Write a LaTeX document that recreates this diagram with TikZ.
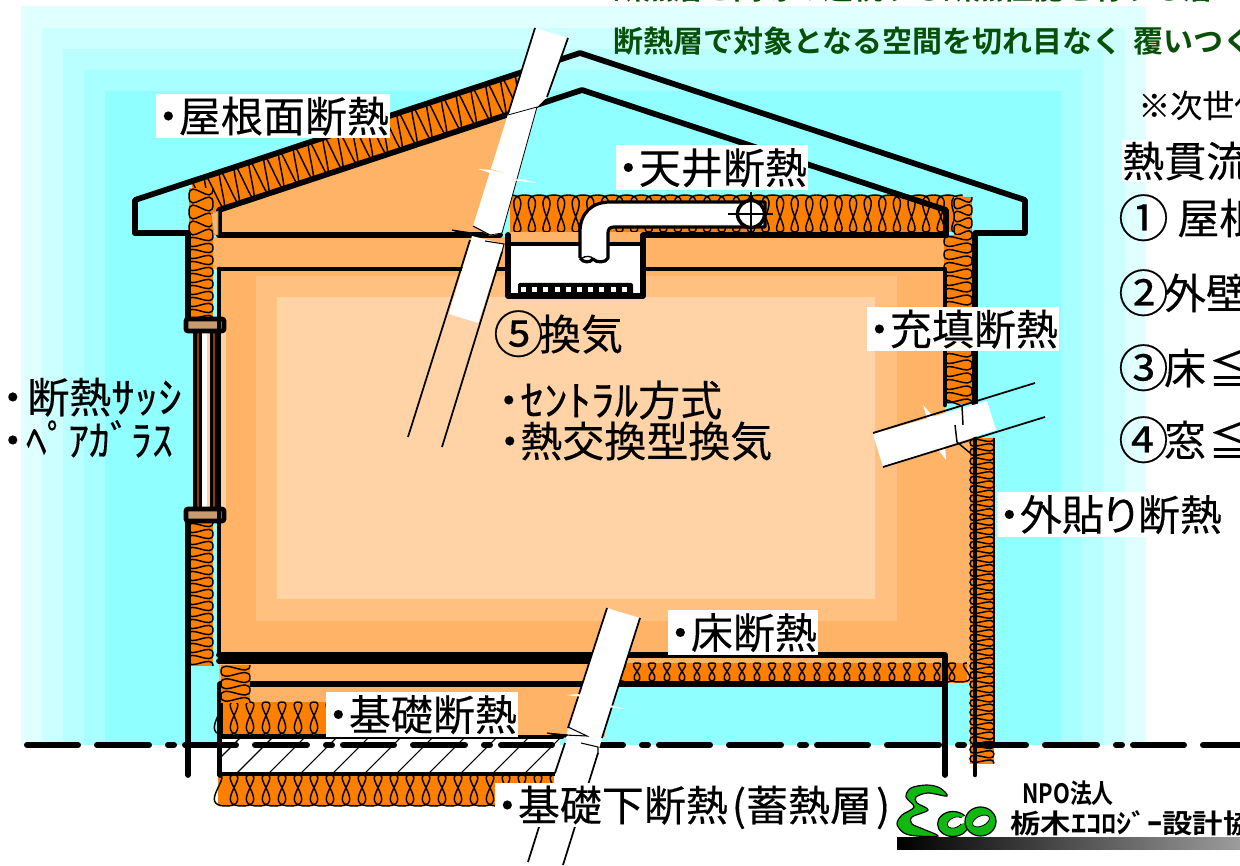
\documentclass[tikz,border=0pt]{standalone}
\usepackage{fontspec}
\usepackage{graphicx}
\newfontfamily\jp{Noto Sans CJK JP}[FakeBold=0.25]
\newfontfamily\jpb{Noto Sans CJK JP Bold}
\newcommand{\hd}{\makebox[.5em]{・}}
\newcommand{\hw}[1]{\scalebox{1.12}[1]{#1}}
\newcommand{\cd}[1]{\raisebox{-2.2pt}{\fontsize{37.8}{37.8}\selectfont #1}\kern-3.5pt}
\definecolor{insul}{HTML}{FF8000}
\definecolor{roomA}{HTML}{FFB366}
\definecolor{roomB}{HTML}{FFC080}
\definecolor{roomC}{HTML}{FFD3A6}
\definecolor{greentxt}{HTML}{085008}
\definecolor{ecogreen}{HTML}{10B810}
\tikzset{
  heavy/.style={line width=4.3pt,line cap=round,line join=round},
  mid/.style={line width=3.4pt,line cap=round,line join=round},
  thinedge/.style={line width=1.3pt},
  fine/.style={line width=.8pt,line join=miter},
  battline/.style={line width=1.1pt},
  plain/.style={font=\jp\fontsize{31.5}{31.5}\selectfont,text height=27.7pt,text depth=3.8pt,inner sep=0pt,anchor=west},
  lab/.style={plain,fill=white,inner xsep=1.2pt,inner ysep=.8pt},
  green/.style={font=\jpb\fontsize{22.5}{22.5}\selectfont,text=greentxt,inner sep=0pt,anchor=west,text height=19.8pt,text depth=2.7pt},
}
% x y angle count pitch height k1 k2
\newcommand{\batt}[8]{%
  \begin{scope}[shift={(#1,#2)},rotate=#3]
    \fill[insul] (0,0) rectangle ({#4*#5},#6);
    \foreach \i in {1,...,#4}{
      \pgfmathsetmacro\xa{(\i-1)*#5}
      \pgfmathsetmacro\xb{\xa+#5/2}
      \pgfmathsetmacro\xc{\xa+#5}
      \draw[battline] (\xa,0) .. controls ({\xa+#7},0) and ({\xb-#8},#6) .. (\xb,#6)
        .. controls ({\xb+#8},#6) and ({\xc-#7},0) .. (\xc,0);
    }
  \end{scope}}
\begin{document}
\begin{tikzpicture}[x=.75pt,y=-.75pt]
\useasboundingbox (0,0) rectangle (1240,866);
\clip (0,0) rectangle (1240,866);
\fill[white] (0,0) rectangle (1240,866);
% outdoor bands
\fill[color={rgb,255:red,224;green,255;blue,255}] (21,6) rectangle (1146,745);
\fill[color={rgb,255:red,204;green,255;blue,255}] (42,28) rectangle (1125,745);
\fill[color={rgb,255:red,186;green,255;blue,255}] (63,49) rectangle (1103,745);
\fill[color={rgb,255:red,168;green,255;blue,255}] (84,70) rectangle (1082,745);
\fill[color={rgb,255:red,144;green,255;blue,255}] (105,91) rectangle (1061,745);
% interior fills
\fill[roomA] (219,210) -- (510,114) -- (480,237) -- (219,237) -- cycle;
\fill[roomA] (213,237) rectangle (946,269);
\fill[roomA] (219,269) rectangle (945,683);
\fill[roomA] (945,430) rectangle (972,683);
\fill[roomA] (220,683) rectangle (605,737);
\fill[roomB] (256,276) rectangle (897,621);
\fill[roomC] (277,297) rectangle (875,599);
% insulation
\batt{190}{180}{18.3}{22}{15.6}{38}{3}{3}
\batt{510}{195}{0}{31}{14.6}{37}{27}{14}
\batt{972}{197}{-90}{3}{13}{18}{15}{15}
\batt{972}{235}{-90}{13}{13}{28}{14}{14}
\batt{213}{188}{-90}{3}{16}{24}{20}{20}
\batt{213}{236}{-90}{7}{12}{25}{13}{13}
\batt{213}{522}{-90}{12}{12}{25}{13}{13}
\batt{622}{663}{0}{23}{15}{19}{14}{26}
\batt{218}{702}{0}{7}{16}{33}{15}{29}
\batt{218}{775}{0}{21}{16}{31}{15}{29}
% sash
\fill[roomC] (205,330) rectangle (226,510);
\fill[white] (193,330) rectangle (207,510);
\fill[black] (193,330) rectangle (202,510);
\fill[black] (210,330) rectangle (217,510);
\fill[color={rgb,255:red,140;green,60;blue,0}] (196.5,330) rectangle (198.5,510);
\fill[color={rgb,255:red,140;green,60;blue,0}] (212.5,330) rectangle (214.5,510);
\foreach \yy in {317,507}{
  \draw[line width=3.5pt,rounded corners=1.5pt,fill={rgb,255:red,200;green,155;blue,110}] (186,\yy+2) rectangle (224,\yy+14);
}
% walls, roof and floors
\draw[heavy] (135,233) -- (135,200) -- (580,53) -- (1025,200) -- (1025,233) -- (975,233) -- (975,410);
\draw[heavy] (135,233) -- (188,233) -- (188,318);
\draw[heavy] (188,522) -- (188,775);
\draw[heavy] (219,235) -- (219,210) -- (582,90) -- (946,210) -- (946,235);
\draw[heavy] (219,235) -- (500,235);
\draw[heavy] (643,235) -- (946,235);
\draw[mid] (219,269) -- (508,269);
\draw[mid] (643,269) -- (945,269) -- (945,405);
\draw[mid] (219,269) -- (219,655);
\draw[heavy] (219,655) -- (945,655) -- (945,775);
\draw[heavy] (219,661) -- (590,661);
\draw[heavy] (220,775) -- (220,684) -- (945,684);
% external insulation
\batt{994}{438}{-90}{35}{9.3}{24}{10}{10}
\draw[line width=2.2pt] (994,438) -- (994,745);
\draw[mid] (975,438) -- (975,775);
% foundation corner insulation
\batt{250}{665}{-90}{3}{12.5}{29}{14}{14}
% slab
\fill[white] (220,737) rectangle (560,774);
\begin{scope}
\clip (220,737) rectangle (560,774);
\foreach \n in {0,...,11}{
  \draw[fine] ({204+32*\n},774) -- ({204+32*\n+37},737);
}
\end{scope}
\draw[mid] (220,737) -- (562,737);
\draw[mid] (220,774) -- (556,774);
\draw[mid] (220,737) -- (220,774);
% ventilation box
\fill[white] (508,245) rectangle (643,297);
\fill[roomA] (508,232) rectangle (643,245);
\draw[line width=2.8pt] (508,244) -- (643,244);
\draw[heavy] (508,235) -- (508,296) -- (643,296) -- (643,235);
\fill[black,rounded corners=1.5pt] (518,283) rectangle (633,297);
\foreach \n in {0,...,9}{
  \fill[white] ({521+11.2*\n},287.5) rectangle ({526+11.2*\n},292.5);
}
% duct
\draw[line width=2.4pt,fill=white,line join=round] (580,258) -- (580,232) .. controls (580,213) and (592,202) .. (610,202) -- (765,202) -- (765,227) -- (614,227) .. controls (610,227) and (608,229) .. (608,233) -- (608,258) .. controls (606,263) and (596,263) .. (593,259) .. controls (590,263) and (583,263) .. (580,258);
\draw[line width=1pt] (581,259) .. controls (585,255) and (592,256) .. (593,259);
\draw[line width=2.6pt,fill=white] (751,214) circle (13.5);
\draw[line width=2pt] (728,214) -- (773,214) (751,192) -- (751,234);
% grade line
\draw[line width=4.5pt,line cap=round,dash pattern=on 38.25pt off 14.25pt on 39pt off 14.25pt on 4.5pt off 8.25pt] (27,745) -- (1240,745);
% break band 1
\fill[white] (535,28) -- (568,38) -- (547,97) -- (537,107) -- (502,233) -- (490,236) -- (473,226) -- cycle;
\fill[white] (472,236) -- (504,244) -- (478,323) -- (449,314) -- cycle;
\draw[thinedge] (535,28) -- (508,114);
\draw[thinedge] (568,38) -- (547,97);
\draw[line width=.6pt] (508,115) -- (537,107) -- (502,233) -- (490,235);
\draw[fine,fill=black] (452,230) -- (472,233) -- (470,236) -- cycle;
\draw[fine] (473,226) -- (490,235) -- (472,233);
\draw[fine] (485,241) -- (504,244) -- (502,252);
\draw[thinedge] (470,240) -- (408,437);
\draw[thinedge] (502,252) -- (442,447);
\fill[white] (478,169) -- (490,173) -- (504,174) -- (492,170) -- cycle;
\fill[roomA] (487,168) -- (504,173) -- (492,170) -- cycle;
\fill[white] (510,180) -- (536,183) -- (522,179) -- cycle;
% small sliver at the eave
\draw[line width=.4pt,draw=gray,fill=roomA] (211,214) -- (218,211) -- (218,235) -- (214,235) -- cycle;
% break band 2
\fill[white] (873,434) -- (987,401) -- (996,430) -- (883,467) -- cycle;
\fill[white] (923,405) -- (938,422) -- (930,428) -- cycle;
\fill[white] (934,444) -- (946,460) -- (945,444) -- cycle;
\draw[thinedge] (873,433) -- (1035,383);
\draw[thinedge] (883,467) -- (1045,417);
\draw[line width=1.1pt,line join=miter] (947,400) -- (962,406) -- (963,425);
\draw[line width=1.1pt,line join=miter] (955,425) -- (957,442) -- (970,453);
% break band 3
\fill[white] (607,608) -- (640,618) -- (602,738) -- (598,753) -- (575,827) -- (555,775) -- (565,743) -- (568,728) -- cycle;
\draw[thinedge] (607,608) -- (568,728);
\draw[thinedge] (640,618) -- (602,738);
\draw[fine,fill=black] (547,733) -- (567,735) -- (565,737) -- cycle;
\draw[fine] (568,727) -- (587,736) -- (565,735);
\draw[fine] (581,743) -- (598,747) -- (598,753);
\draw[thinedge] (565,743) -- (555,773);
\draw[thinedge] (598,753) -- (563,865);
\draw[thinedge] (539,827) -- (528,862);
\fill[white] (566,695) -- (592,698) -- (578,694) -- cycle;
\fill[white] (598,706) -- (625,709) -- (610,705) -- cycle;
% green heading
\node[green] (headA) at (613,-12) {断熱層と同等の連続する断熱性能を有する層};
\node[green] (headB) at (613,41) {断熱層で対象となる空間を切れ目なく\kern8pt 覆いつくす};
% labels
\node[lab] (roofL) at (156,116) {\hd 屋根面断熱};
\node[lab] (ceilL) at (616,167.5) {\hd 天井断熱};
\node[lab] (fillL) at (867,329) {\hd 充填断熱};
\node[lab] (outL) at (997,514.5) {\hd 外貼\kern-3pt り\kern-3pt 断熱};
\node[lab] (floorL) at (668,632.5) {\hd 床断熱};
\node[lab] (fndL) at (326,714.5) {\hd 基礎断熱};
\node[lab] (subL) at (495,805) {\hd 基礎下断熱\kern3pt(蓄熱層\kern3pt)\kern1pt};
\node[plain] (ventL) at (493,334) {\cd{⑤}換気};
\node[plain] (centL) at (498,400) {\hd\kern1pt \hw{ｾﾝﾄﾗﾙ}方式};
\node[plain] (exL) at (499,441) {\hd 熱交換型換気};
\node[plain] (sashL) at (2,397) {\hd\kern3pt 断熱\hw{ｻｯｼ}};
\node[plain] (pairL) at (2,440) {\hd\kern2pt ﾍﾟｱｶﾞﾗｽ};
% right column
\node[plain,font=\jp\fontsize{24}{24}\selectfont,text height=21pt,text depth=3pt] (nextL) at (1138,105.5) {※次世代};
\node[lab,inner ysep=0pt,inner xsep=0pt] (uL) at (1122,161) {熱貫流率};
\node[plain] (r1) at (1118,218) {\cd{①}\kern10pt 屋根};
\node[plain] (r2) at (1118,293) {\cd{②}外壁};
\node[plain] (r3) at (1118,368) {\cd{③}床\kern2pt ≦};
\node[plain] (r4) at (1118,440) {\cd{④}窓\kern2pt ≦};
% logo
\shade[left color=black,right color={rgb,255:red,165;green,165;blue,165}] (897,837) rectangle (1260,849);
\draw[line width=.9pt,fill=ecogreen] plot[smooth cycle,tension=.55] coordinates {(947,796) (940,788) (927,785) (911,788) (906,797) (914,807) (902,815) (897,824) (904,833) (917,836) (938,836) (923,829) (912,824) (912,817) (928,810) (917,803) (916,797) (928,793)};
\draw[line width=.9pt,fill=ecogreen] (953,824) ellipse (15.5 and 12.5);
\draw[fill=white,line width=.6pt,rotate around={25:(955,822.5)}] (955,822.5) ellipse (8 and 5);
\fill[white] (958,820) -- (968,814) -- (969,821) -- (961,824) -- cycle;
\draw[line width=.9pt,fill=ecogreen] (980.5,821.5) ellipse (15.5 and 14.5);
\draw[fill=white,line width=.6pt,rotate around={25:(981,821)}] (981,821) ellipse (9 and 5);
\node[inner sep=0pt,anchor=west,font=\jpb\fontsize{20}{20}\selectfont] (npo) at (1022,793) {\scalebox{.82}[1]{NPO法人}};
\node[inner sep=0pt,anchor=west,font=\jpb\fontsize{20}{20}\selectfont] (org) at (1010,823) {\scalebox{1.14}[1]{栃木ｴｺﾛｼﾞｰ設計協会}};
\end{tikzpicture}
\end{document}
